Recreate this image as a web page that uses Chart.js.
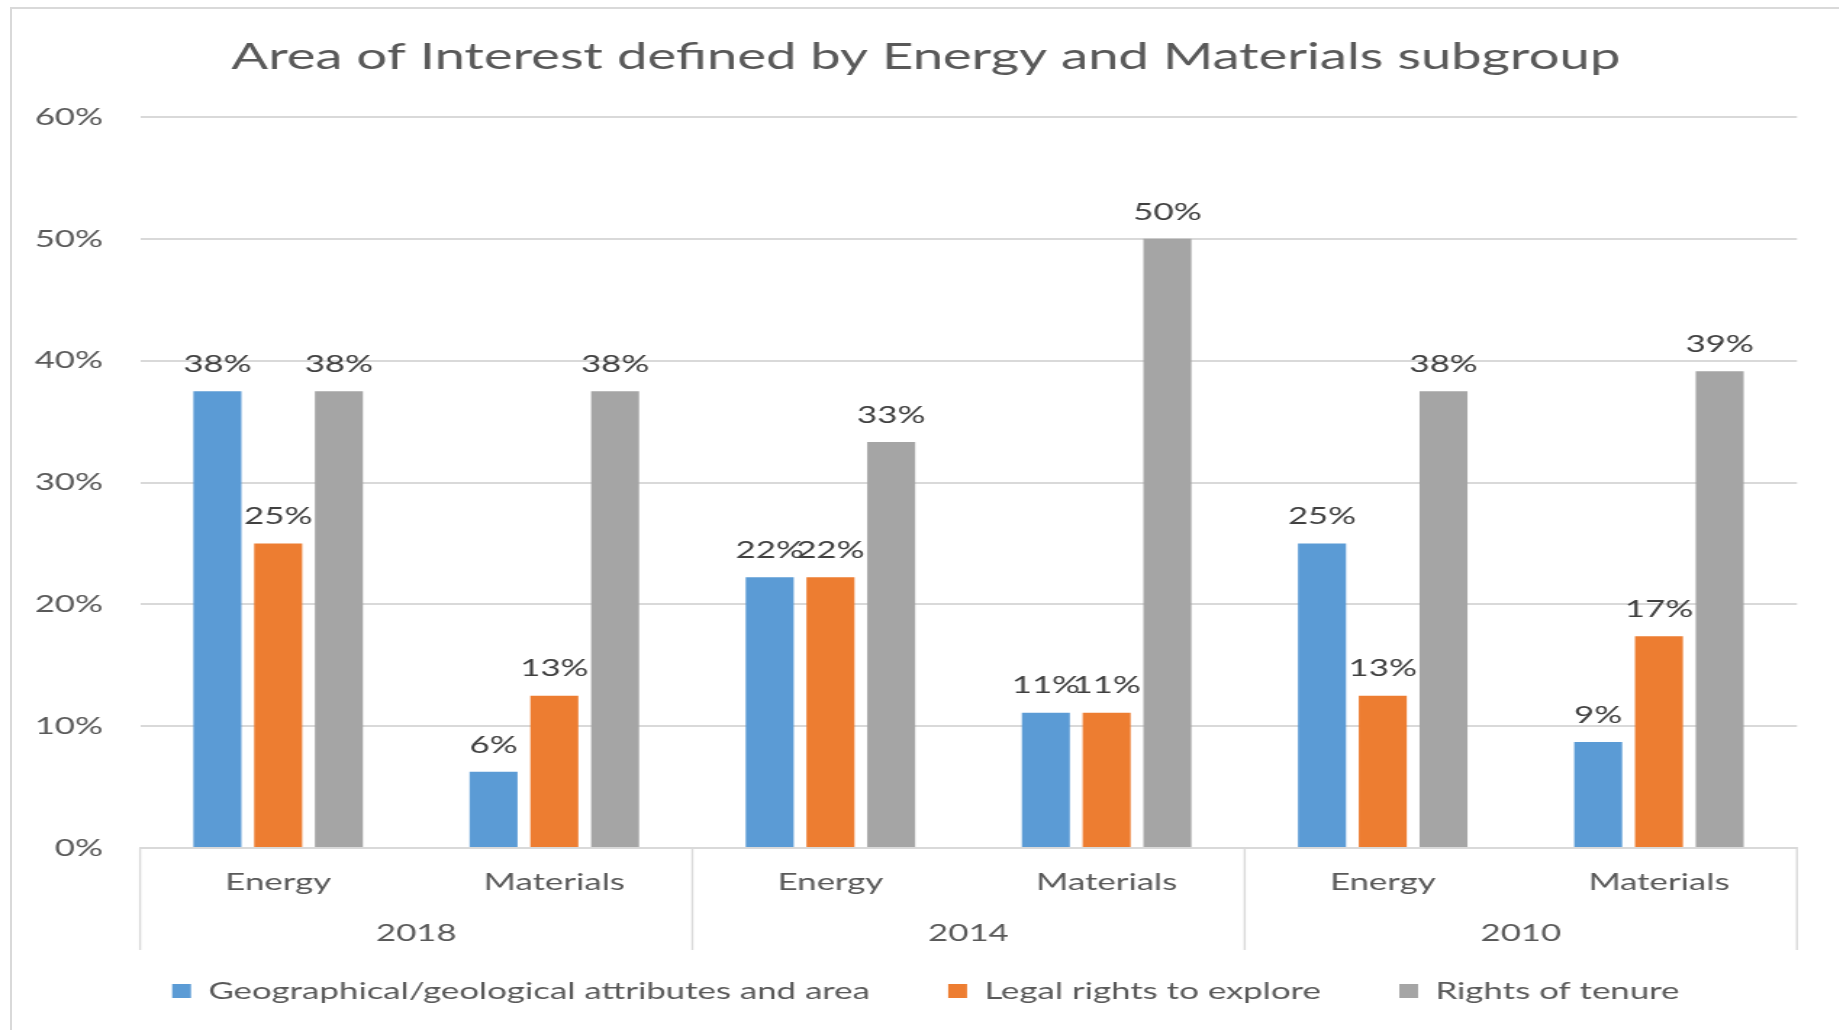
<!DOCTYPE html>
<html>
<head>
<meta charset="utf-8">
<script src="https://cdn.jsdelivr.net/npm/chart.js@4.4.1/dist/chart.umd.min.js"></script>
<style>
  html, body { margin: 0; padding: 0; background: #fff; }
  #page { position: relative; width: 1839px; height: 1030px; overflow: hidden; background: #fff; }
  #stretch { position: absolute; left: 0; top: 0; transform: scaleX(1.45); transform-origin: 0 0; }
  #frame { position: absolute; left: 10px; top: 7px; width: 1900px; height: 1100px;
           border-left: 2px solid #d9d9d9; border-top: 2px solid #d9d9d9; pointer-events: none; }
</style>
</head>
<body>
<div id="page">
  <div id="stretch"><canvas id="chart" width="1268" height="1030"></canvas></div>
  <div id="frame"></div>
</div>
<script>
// the original picture is stretched sideways, so the canvas is drawn narrow and scaled in x
var STRETCH = 1.45;

var categories = ['Energy', 'Materials', 'Energy', 'Materials', 'Energy', 'Materials'];
var years = ['2018', '2014', '2010'];
var seriesNames = ['Geographical/geological attributes and area', 'Legal rights to explore', 'Rights of tenure'];
var geoValues = [37.5, 6.25, 22.22, 11.11, 25, 8.7];
var legalValues = [25, 12.5, 22.22, 11.11, 12.5, 17.39];
var tenureValues = [37.5, 37.5, 33.33, 50, 37.5, 39.13];
var seriesColors = ['#5b9bd5', '#ed7d31', '#a5a5a5'];
var yMin = 0, yMax = 60, yStep = 10;

var textColor = '#595959';
var gridColor = '#d9d9d9';
var fontFamily = 'Lato, "Open Sans", sans-serif';

// value labels above each bar
var barLabels = {
    id: 'barLabels',
    afterDatasetsDraw: function (chart) {
        var ctx = chart.ctx;
        ctx.save();
        ctx.font = '24px ' + fontFamily;
        ctx.fillStyle = '#404040';
        ctx.textAlign = 'center';
        ctx.textBaseline = 'middle';
        chart.data.datasets.forEach(function (ds, di) {
            var meta = chart.getDatasetMeta(di);
            meta.data.forEach(function (bar, i) {
                ctx.fillText(Math.round(ds.data[i]) + '%', bar.x, bar.y - 27);
            });
        });
        ctx.restore();
    }
};

// second row of the category axis: year groups with separators
var groupAxis = {
    id: 'groupAxis',
    afterDraw: function (chart) {
        var ctx = chart.ctx;
        var x = chart.scales.x;
        var bottom = chart.chartArea.bottom;
        var per = categories.length / years.length;
        ctx.save();
        ctx.strokeStyle = gridColor;
        ctx.lineWidth = 2 / STRETCH;
        for (var i = 0; i <= years.length; i++) {
            var px = x.left + x.width * i / years.length;
            ctx.beginPath();
            ctx.moveTo(px, bottom);
            ctx.lineTo(px, bottom + 102);
            ctx.stroke();
        }
        ctx.font = '24px ' + fontFamily;
        ctx.fillStyle = textColor;
        ctx.textAlign = 'center';
        ctx.textBaseline = 'middle';
        years.forEach(function (yr, i) {
            var a = x.getPixelForValue(i * per);
            var b = x.getPixelForValue(i * per + per - 1);
            ctx.fillText(yr, (a + b) / 2, bottom + 85);
        });
        ctx.restore();
    }
};

var chart = new Chart(document.getElementById('chart'), {
    type: 'bar',
    data: {
        labels: categories,
        datasets: [
            { label: seriesNames[0], data: geoValues, backgroundColor: seriesColors[0] },
            { label: seriesNames[1], data: legalValues, backgroundColor: seriesColors[1] },
            { label: seriesNames[2], data: tenureValues, backgroundColor: seriesColors[2] }
        ]
    },
    options: {
        responsive: false,
        animation: false,
        categoryPercentage: 0.66,
        barPercentage: 0.79,
        layout: { padding: { left: 9, right: 0, top: 0, bottom: 17 } },
        plugins: {
            title: {
                display: true,
                text: 'Area of Interest defined by Energy and Materials subgroup',
                color: textColor,
                font: { family: fontFamily, size: 37.5, weight: 'normal' },
                padding: { top: 34.5, bottom: 37.5 }
            },
            legend: {
                position: 'bottom',
                labels: {
                    color: textColor,
                    font: { family: fontFamily, size: 24 },
                    boxWidth: 13,
                    boxHeight: 14,
                    padding: 54
                }
            },
            tooltip: { enabled: false }
        },
        scales: {
            x: {
                grid: { display: false, drawTicks: false },
                border: { display: true, color: gridColor, width: 2 },
                ticks: { color: textColor, font: { family: fontFamily, size: 24 }, padding: 20, maxRotation: 0 },
                afterFit: function (scale) { scale.height = 77; }
            },
            y: {
                min: yMin,
                max: yMax,
                grid: { color: gridColor, lineWidth: 2, drawTicks: false },
                border: { display: false },
                ticks: {
                    stepSize: yStep,
                    color: textColor,
                    font: { family: fontFamily, size: 24 },
                    padding: 25.6,
                    callback: function (v) { return v + '%'; }
                },
                afterFit: function (scale) { scale.width = 87.6; }
            },
            // empty right margin, kept as an axis so title and legend stay centred on the whole frame
            yRight: {
                position: 'right',
                grid: { display: false, drawTicks: false },
                border: { display: false },
                ticks: { display: false },
                afterFit: function (scale) { scale.width = 28.7; }
            }
        }
    },
    plugins: [barLabels, groupAxis]
});
</script>
</body>
</html>
